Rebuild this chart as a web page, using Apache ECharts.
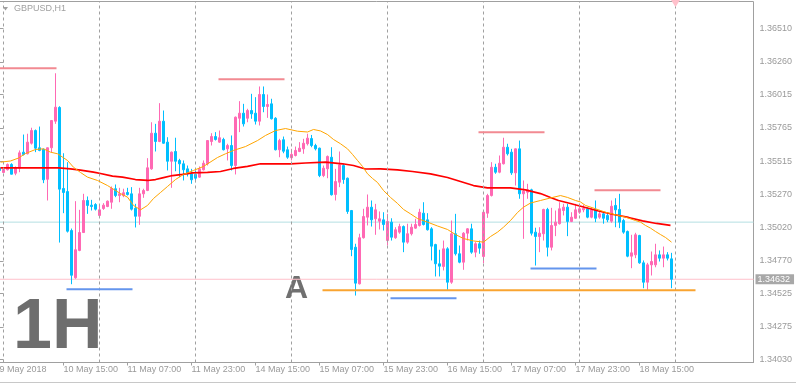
<!DOCTYPE html>
<html><head><meta charset="utf-8">
<script src="https://cdn.jsdelivr.net/npm/echarts@6/dist/echarts.min.js"></script>
<style>html,body{margin:0;padding:0;background:#fff;}#c{width:796px;height:384px;}</style>
</head><body><div id="c"></div>
<script>
// ---- data ----
const symbolTitle = 'GBPUSD,H1';
const firstBar = '9 May 23:00';
const firstBarLabel = '9 May 2018';
const days = ['10 May','11 May','14 May','15 May','16 May','17 May','18 May'];
const emptySlots = 20;
// [open, close, low, high]
const candles = [
[1.35467,1.35447,1.35439,1.35484],[1.35432,1.35456,1.35426,1.35471],[1.35452,1.35492,1.35447,1.35499],[1.35492,1.35419,1.35417,1.35501],
[1.35426,1.35467,1.35411,1.35477],[1.35464,1.35579,1.35434,1.35597],[1.35584,1.35567,1.35559,1.35716],[1.35572,1.35659,1.35567,1.35722],
[1.35651,1.35746,1.35641,1.35767],[1.35746,1.35614,1.35584,1.35754],[1.35617,1.35597,1.35591,1.35776],[1.35606,1.35377,1.35352,1.35611],
[1.35381,1.35617,1.35222,1.35619],[1.35617,1.35821,1.35584,1.35825],[1.35816,1.35921,1.35796,1.36175],[1.35919,1.35307,1.34907,1.35928],
[1.35312,1.35282,1.35127,1.35576],[1.35289,1.34992,1.34982,1.35509],[1.34997,1.34662,1.34595,1.35012],[1.34643,1.34853,1.34636,1.35217],
[1.34848,1.34982,1.34842,1.35152],[1.34982,1.35222,1.34980,1.35272],[1.35222,1.35185,1.35122,1.35252],[1.35187,1.35177,1.35147,1.35227],
[1.35192,1.35157,1.35147,1.35202],[1.35110,1.35152,1.35104,1.35192],[1.35162,1.35187,1.35152,1.35202],[1.35177,1.35217,1.35172,1.35222],
[1.35209,1.35312,1.35160,1.35327],[1.35310,1.35259,1.35247,1.35342],[1.35259,1.35272,1.35209,1.35317],[1.35259,1.35280,1.35247,1.35310],
[1.35282,1.35267,1.35259,1.35317],[1.35272,1.35157,1.35147,1.35322],[1.35164,1.35104,1.35020,1.35197],[1.35104,1.35272,1.35040,1.35317],
[1.35272,1.35297,1.35242,1.35310],[1.35297,1.35467,1.35292,1.35539],[1.35459,1.35726,1.35452,1.35808],[1.35726,1.35664,1.35589,1.35796],
[1.35664,1.35816,1.35659,1.35951],[1.35816,1.35651,1.35647,1.35896],[1.35659,1.35516,1.35447,1.35696],[1.35516,1.35584,1.35317,1.35589],
[1.35589,1.35516,1.35441,1.35692],[1.35522,1.35497,1.35397,1.35534],[1.35497,1.35452,1.35372,1.35522],[1.35459,1.35422,1.35402,1.35484],
[1.35422,1.35377,1.35347,1.35459],[1.35417,1.35389,1.35359,1.35447],[1.35397,1.35459,1.35392,1.35477],[1.35452,1.35501,1.35447,1.35522],
[1.35497,1.35671,1.35484,1.35675],[1.35664,1.35701,1.35634,1.35726],[1.35701,1.35679,1.35671,1.35734],[1.35659,1.35692,1.35654,1.35746],
[1.35679,1.35602,1.35597,1.35692],[1.35609,1.35634,1.35522,1.35647],[1.35634,1.35484,1.35447,1.35709],[1.35484,1.35846,1.35417,1.35851],
[1.35838,1.35876,1.35734,1.35966],[1.35876,1.35796,1.35776,1.35946],[1.35838,1.35896,1.35808,1.35909],[1.35896,1.35871,1.35834,1.36021],
[1.35876,1.35816,1.35791,1.35996],[1.35816,1.36016,1.35784,1.36076],[1.36016,1.35926,1.35883,1.36076],[1.35926,1.35941,1.35841,1.36016],
[1.35946,1.35834,1.35829,1.35984],[1.35838,1.35602,1.35597,1.35846],[1.35602,1.35671,1.35546,1.35684],[1.35677,1.35591,1.35576,1.35701],
[1.35602,1.35546,1.35534,1.35626],[1.35542,1.35567,1.35522,1.35609],[1.35559,1.35597,1.35552,1.35626],[1.35589,1.35614,1.35584,1.35659],
[1.35609,1.35651,1.35572,1.35684],[1.35647,1.35689,1.35634,1.35722],[1.35686,1.35634,1.35621,1.35713],[1.35634,1.35609,1.35597,1.35647],
[1.35614,1.35409,1.35397,1.35618],[1.35409,1.35464,1.35397,1.35484],[1.35459,1.35552,1.35389,1.35559],[1.35546,1.35265,1.35259,1.35621],
[1.35267,1.35364,1.35222,1.35459],[1.35359,1.35489,1.35322,1.35589],[1.35484,1.35379,1.35347,1.35497],[1.35389,1.35140,1.35122,1.35394],
[1.35147,1.34855,1.34805,1.35151],[1.34872,1.34603,1.34510,1.34898],[1.34598,1.34943,1.34593,1.34973],[1.34943,1.35102,1.34937,1.35160],
[1.35097,1.35172,1.35035,1.35267],[1.35172,1.35077,1.35027,1.35222],[1.35085,1.35152,1.34965,1.35197],[1.35067,1.35085,1.35005,1.35140],
[1.35077,1.35042,1.34997,1.35134],[1.34922,1.35065,1.34885,1.35122],[1.35060,1.34947,1.34922,1.35089],[1.34943,1.35003,1.34935,1.35022],
[1.34985,1.35027,1.34973,1.35048],[1.35027,1.34910,1.34835,1.35035],[1.34910,1.34973,1.34898,1.35048],[1.34973,1.35022,1.34960,1.35048],
[1.35015,1.35042,1.35010,1.35085],[1.35035,1.35134,1.35027,1.35160],[1.35127,1.35042,1.35035,1.35209],[1.35077,1.35003,1.34997,1.35127],
[1.35010,1.34880,1.34773,1.35022],[1.34892,1.34748,1.34653,1.34898],[1.34748,1.34730,1.34653,1.34853],[1.34728,1.34860,1.34698,1.34922],
[1.34860,1.34610,1.34553,1.34872],[1.34610,1.34973,1.34598,1.35072],[1.34973,1.34823,1.34810,1.35122],[1.34823,1.34760,1.34752,1.34885],
[1.34760,1.34977,1.34703,1.34985],[1.34977,1.35010,1.34922,1.35015],[1.35010,1.34835,1.34823,1.35048],[1.34835,1.34898,1.34797,1.34910],
[1.34898,1.34865,1.34823,1.34922],[1.34803,1.35134,1.34752,1.35147],[1.35127,1.35259,1.35092,1.35272],[1.35259,1.35471,1.35252,1.35509],
[1.35471,1.35434,1.35422,1.35497],[1.35434,1.35501,1.35426,1.35559],[1.35497,1.35621,1.35492,1.35692],[1.35621,1.35572,1.35559,1.35647],
[1.35584,1.35429,1.35414,1.35609],[1.35429,1.35609,1.35334,1.35611],[1.35609,1.35272,1.35235,1.35671],[1.35272,1.35292,1.34935,1.35372],
[1.35284,1.35302,1.35235,1.35347],[1.35302,1.34977,1.34960,1.35310],[1.34985,1.34952,1.34735,1.35018],[1.34952,1.34977,1.34835,1.35022],
[1.34973,1.35155,1.34922,1.35160],[1.35155,1.34872,1.34803,1.35167],[1.34872,1.35035,1.34848,1.35167],[1.35035,1.35060,1.34955,1.35147],
[1.35048,1.35160,1.35042,1.35209],[1.35147,1.35172,1.35110,1.35197],[1.35172,1.35065,1.34955,1.35197],[1.35065,1.35097,1.35060,1.35134],
[1.35089,1.35152,1.35085,1.35197],[1.35134,1.35160,1.35122,1.35190],[1.35152,1.35164,1.35134,1.35190],[1.35160,1.35097,1.35089,1.35172],
[1.35097,1.35152,1.35089,1.35164],[1.35152,1.35089,1.35060,1.35222],[1.35097,1.35122,1.35085,1.35147],[1.35122,1.35089,1.35048,1.35134],
[1.35110,1.35077,1.35060,1.35134],[1.35067,1.35179,1.35055,1.35222],[1.35185,1.35152,1.35022,1.35239],[1.35155,1.35060,1.35015,1.35272],
[1.35072,1.34985,1.34973,1.35085],[1.34990,1.34805,1.34797,1.34997],[1.34805,1.34830,1.34715,1.34965],[1.34815,1.34965,1.34790,1.34980],
[1.34960,1.34755,1.34748,1.34965],[1.34755,1.34610,1.34565,1.34773],[1.34610,1.34740,1.34548,1.34755],[1.34740,1.34765,1.34660,1.34840],
[1.34740,1.34815,1.34722,1.34898],[1.34815,1.34790,1.34765,1.34848],[1.34790,1.34815,1.34722,1.34877],[1.34815,1.34790,1.34773,1.34835],
[1.34785,1.34632,1.34565,1.34830]
];
// moving averages: [bar index, price]
const maFast = [
[0.25,1.35509],[2.75,1.35518],[4.75,1.35540],[6.5,1.35574],[9,1.35604],[11,1.35609],[12.75,1.35584],[14.5,1.35572],[16,1.35542],[17,1.35522],
[18.5,1.35471],[20.25,1.35432],[22,1.35397],[24.5,1.35372],[27,1.35334],[29,1.35297],[30.25,1.35274],[32,1.35247],[33.5,1.35185],[35.25,1.35152],
[37,1.35185],[38.5,1.35237],[40.25,1.35282],[42,1.35327],[44,1.35379],[46,1.35417],[48.5,1.35447],[51,1.35477],[54.5,1.35544],[56.5,1.35572],
[58.5,1.35597],[61.5,1.35626],[64.5,1.35671],[66.5,1.35709],[69,1.35746],[71.5,1.35761],[74.5,1.35741],[77,1.35735],[78.5,1.35754],[80.25,1.35743],
[82,1.35716],[83.5,1.35679],[85.25,1.35647],[87,1.35609],[88.25,1.35567],[89.5,1.35522],[90.75,1.35477],[92,1.35422],[93.25,1.35387],[94.5,1.35357],
[96,1.35297],[97.75,1.35245],[99.5,1.35200],[101,1.35155],[102.75,1.35122],[104.5,1.35087],[107,1.35060],[109.5,1.35031],[112,1.35005],[114,1.34967],
[116,1.34937],[118.5,1.34919],[121,1.34910],[122.75,1.34952],[124.5,1.34985],[126,1.35022],[127.75,1.35072],[129.5,1.35132],[131,1.35172],[132.75,1.35203],
[135.25,1.35222],[137.75,1.35241],[140.25,1.35259],[142,1.35245],[144,1.35222],[145.25,1.35211],[146.5,1.35185],[149,1.35160],[151.5,1.35134],[154,1.35115],
[156.5,1.35097],[159,1.35072],[160.25,1.35060],[161.5,1.35035],[162.75,1.35015],[164,1.34990],[165.25,1.34967],[166.5,1.34945],[168,1.34910]
];
const maSlow = [
[0.25,1.35467],[14.75,1.35467],[17.75,1.35459],[20.25,1.35450],[23.5,1.35435],[25.25,1.35424],[28.25,1.35404],[30.75,1.35397],[34,1.35379],[37,1.35372],
[39,1.35379],[40.75,1.35392],[43.25,1.35409],[45.75,1.35417],[48.25,1.35429],[52,1.35432],[55.25,1.35439],[58.5,1.35462],[62,1.35477],[65.25,1.35497],
[72.75,1.35497],[76.5,1.35503],[81.5,1.35509],[85.75,1.35497],[88.5,1.35484],[91.5,1.35458],[95.25,1.35459],[99.5,1.35452],[103.25,1.35439],[107.75,1.35422],
[112,1.35394],[115.25,1.35364],[118.5,1.35334],[122,1.35316],[127.75,1.35316],[131.5,1.35301],[135.25,1.35274],[137.75,1.35245],[139.75,1.35222],[142.25,1.35203],
[146,1.35173],[149.75,1.35143],[153.5,1.35117],[157.25,1.35095],[160.75,1.35069],[164.25,1.35050],[167.75,1.35035]
];
const yTicks = [1.34030,1.34275,1.34525,1.34770,1.35020,1.35270,1.35515,1.35765,1.36015,1.36260,1.36510];
// horizontal level segments: [fromBar, toBar, price]
const resistanceLevels = [[-0.5,14.25,1.36213],[54.75,71.25,1.36130],[119.75,136.25,1.35734],[148.75,165.25,1.35299]];
const supportLevels = [[16.75,33.25,1.34558],[97.75,114.25,1.34490],[132.75,149.25,1.34713]];
const levelA = [80.75,174,1.34550];
const bidPrice = 1.34632;
const tealLevel = 1.35060;
const daySeparators = [1,25,49,73,97,121,145,169];
const chartShiftBar = 169;
const yMin = 1.340086, yMax = 1.367125;

// ---- build ----
const categories = [firstBar];
days.forEach(d => { for (let h = 0; h < 24; h++) categories.push(d + ' ' + String(h).padStart(2, '0') + ':00'); });
for (let i = 0; i < emptySlots; i++) categories.push('slot' + i);
const nBars = candles.length;
const xMinV = -0.5, xMaxV = categories.length - 0.5;

const FONT = '"Liberation Sans", Arial, sans-serif';
const GRAY = '#a0a0a0';
const showIdx = (i) => i % 16 === 0 && i < nBars;

const segSeries = (seg, color, width) => ({
  type: 'line', xAxisIndex: 1, yAxisIndex: 0, data: [[seg[0], seg[2]], [seg[1], seg[2]]],
  symbol: 'none', silent: true, z: 6, lineStyle: { color: color, width: width }, animation: false
});

const series = [
  {
    name: 'teal', type: 'line', xAxisIndex: 1, data: [[xMinV, tealLevel], [xMaxV, tealLevel]],
    symbol: 'none', silent: true, z: 1, lineStyle: { color: '#b4dfe2', width: 1 },
    markLine: {
      symbol: 'none', silent: true, label: { show: false },
      lineStyle: { color: GRAY, width: 1, type: [3, 3] },
      data: daySeparators.map(v => ({ xAxis: v }))
    },
    markPoint: {
      silent: true, symbol: 'triangle', symbolRotate: 180, symbolSize: [9, 7], symbolOffset: [0, 2],
      itemStyle: { color: '#ffc0cb' }, label: { show: false },
      data: [{ coord: [chartShiftBar, yMax] }]
    }
  },
  {
    name: 'bid', type: 'line', xAxisIndex: 1, data: [[xMinV, bidPrice], [xMaxV, bidPrice]],
    symbol: 'none', silent: true, z: 1, lineStyle: { color: '#ffc0cb', width: 1 },
    endLabel: {
      show: true, formatter: () => bidPrice.toFixed(5), distance: 2,
      backgroundColor: '#a8a8a8', color: '#ffffff', padding: [1, 4, 0, 2],
      fontSize: 9, fontFamily: FONT
    }
  },
  {
    name: 'candles', type: 'candlestick', xAxisIndex: 0, yAxisIndex: 0, data: candles,
    barWidth: 2, z: 3, silent: true,
    itemStyle: { color: '#ff69b4', color0: '#00bfff', borderColor: '#ff69b4', borderColor0: '#00bfff', borderColorDoji: '#ff69b4', borderWidth: 1 }
  },
  { name: 'maSlow', type: 'line', xAxisIndex: 1, data: maSlow, symbol: 'none', silent: true, z: 4, lineStyle: { color: '#ff0000', width: 1.7 } },
  { name: 'maFast', type: 'line', xAxisIndex: 1, data: maFast, symbol: 'none', silent: true, z: 5, lineStyle: { color: '#ffa500', width: 1 } }
];
resistanceLevels.forEach(s => series.push(segSeries(s, '#f28a92', 2)));
supportLevels.forEach(s => series.push(segSeries(s, '#6495ed', 2)));
series.push(segSeries(levelA, '#f9a431', 2));

const chart = echarts.init(document.getElementById('c'), null, { renderer: 'canvas' });
chart.setOption({
  animation: false,
  backgroundColor: '#ffffff',
  title: { text: symbolTitle, left: 14, top: 4, padding: 0, textStyle: { fontSize: 9, fontWeight: 'normal', color: GRAY, fontFamily: FONT } },
  grid: { left: -2.5, right: 42.5, top: 1.5, bottom: 21.5, show: true, borderColor: GRAY, borderWidth: 1, containLabel: false, outerBoundsMode: 'none' },
  xAxis: [
    {
      type: 'category', data: categories, boundaryGap: true, gridIndex: 0,
      axisLine: { show: true, lineStyle: { color: GRAY } },
      axisTick: { show: true, interval: showIdx, alignWithLabel: true, length: 3, lineStyle: { color: GRAY } },
      axisLabel: { interval: showIdx, align: 'left', margin: 3, fontSize: 9, color: '#9a9a9a', fontFamily: FONT,
        formatter: (v, i) => (i === 0 ? firstBarLabel : v), hideOverlap: false },
      splitLine: { show: false }
    },
    { type: 'value', gridIndex: 0, min: xMinV, max: xMaxV, show: false, splitLine: { show: false } }
  ],
  yAxis: [{
    type: 'value', position: 'right', min: yMin, max: yMax, scale: true,
    splitLine: { show: false },
    axisLine: { show: true, lineStyle: { color: GRAY } },
    axisTick: { show: true, length: 4, customValues: yTicks, lineStyle: { color: GRAY } },
    axisLabel: { customValues: yTicks, formatter: v => v.toFixed(5), margin: 6, fontSize: 9, color: '#9a9a9a', fontFamily: FONT }
  }],
  graphic: [
    { type: 'polygon', silent: true, shape: { points: [[3, 7], [8, 7], [5.5, 10.5]] }, style: { fill: GRAY } },
    { type: 'text', silent: true, left: 13, top: 294, style: { text: '1H', font: 'bold 70px "Liberation Sans", Arial, sans-serif', fill: '#6e6e6e' } },
    { type: 'text', silent: true, left: 285, top: 273.5, style: { text: 'A', font: 'bold 32px "Liberation Sans", Arial, sans-serif', fill: '#707070' } },
    { type: 'line', silent: true, shape: { x1: 0, y1: 382.5, x2: 796, y2: 382.5 }, style: { stroke: '#c8c8c8', lineWidth: 1 } }
  ],
  series: series
});
</script></body></html>
